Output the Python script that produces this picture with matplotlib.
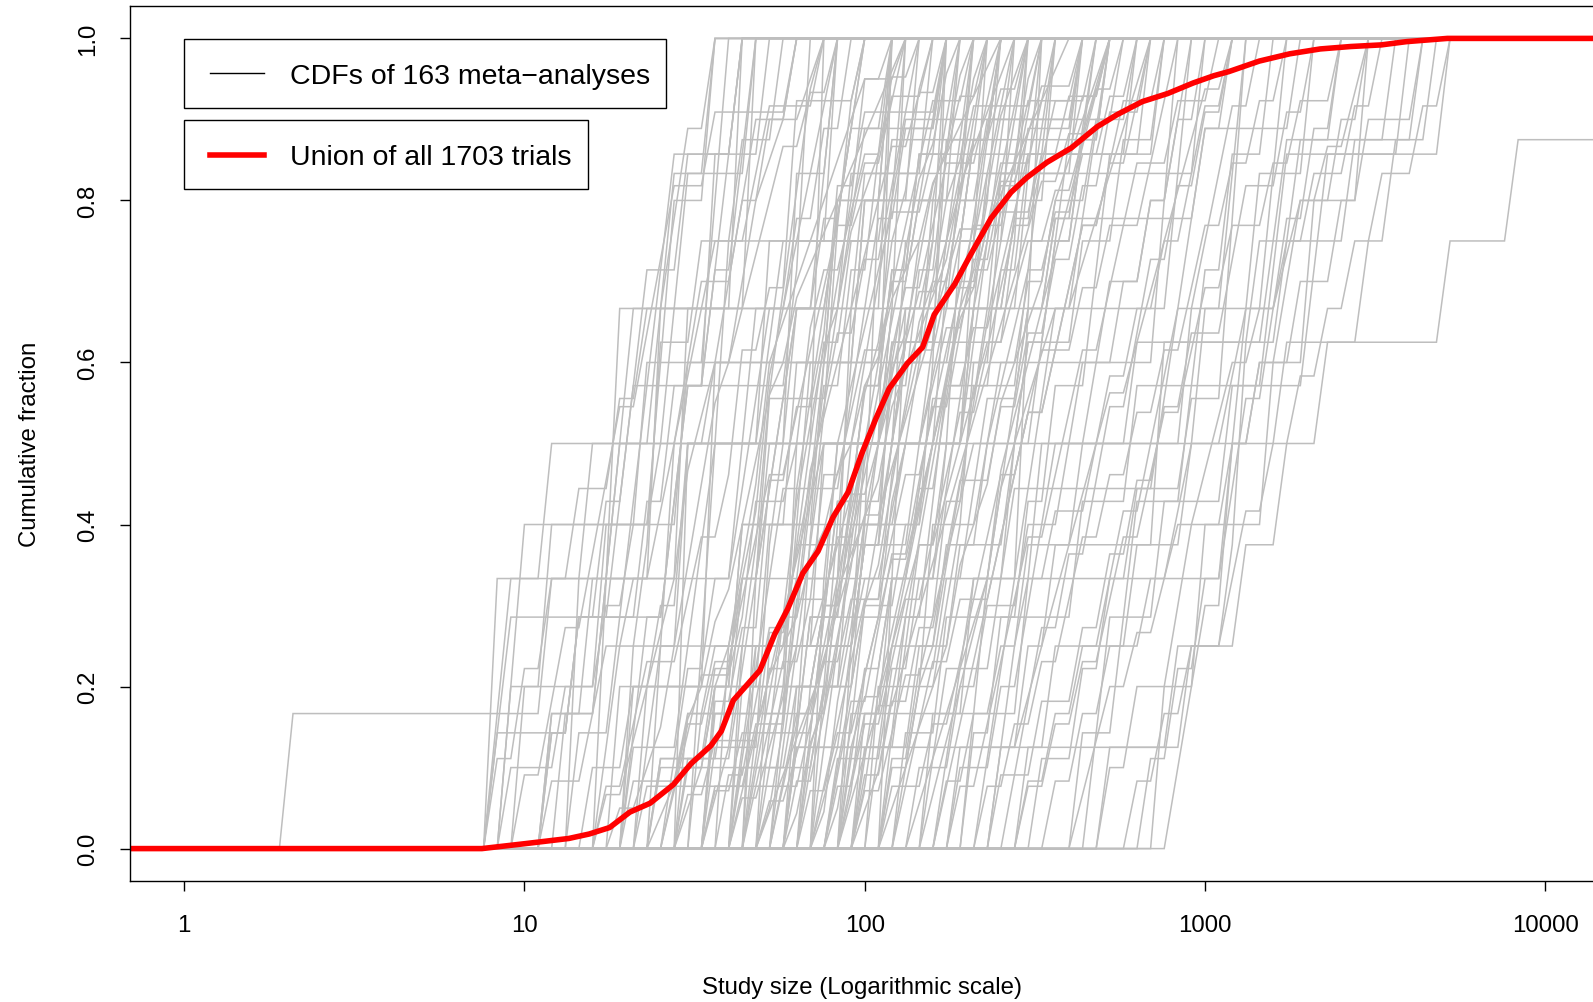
import numpy as np
import matplotlib
matplotlib.use("Agg")
import matplotlib.pyplot as plt
from matplotlib.patches import Rectangle
from matplotlib.lines import Line2D

plt.rcParams["font.family"] = ["Liberation Sans", "DejaVu Sans"]

# ---- trial sizes per meta-analysis (participants per trial) ----
ma_small = [
    [2, 9, 12, 45, 90, 150],
    [8, 10, 12, 14, 18, 22, 26, 30, 34],
    [8, 11, 15, 20, 26, 44],
    [9, 13, 16, 20, 25, 28, 32, 40, 50, 60],
    [8, 18, 40],
    [9, 10, 24, 26, 34],
    [10, 12, 13, 15, 17, 19, 21, 24, 27, 35, 60],
    [11, 14, 16, 20, 22, 30, 40],
    [12, 16, 19, 23, 28, 34],
    [8, 14, 22, 26, 34, 40, 48],
    [10, 11, 22, 100, 120],
    [12, 15, 17, 20, 24, 26, 30, 32, 36, 44, 52, 70],
    [14, 18, 20, 22, 25, 27, 42],
    [15, 20, 24, 28, 30, 36, 38, 42, 46, 60],
    [16, 19, 21, 24, 25, 33, 40, 55],
    [9, 16, 30, 34, 38],
    [13, 17, 40, 60, 62, 80],
    [17, 20, 22, 24, 26, 28, 30, 33, 35, 40, 45, 48, 55, 66, 80],
    [18, 22, 24, 26, 27, 28, 30, 31, 33, 34, 36, 38, 40, 42, 44, 47, 50, 56, 64, 72],
    [20, 22, 26, 30, 34, 38, 44],
    [11, 15, 19, 26, 300, 420],
    [8, 9, 26, 30, 34, 36, 40],
    [16, 20, 22, 28, 33, 38, 40, 42, 50, 58, 60, 62, 100],
    [18, 40, 70, 100, 130],
    [14, 30, 44],
    [20, 26, 50, 80],
    [12, 14, 18, 20, 60, 64, 68],
    [16, 24, 120],
    [20, 28, 32, 36, 48, 56, 200, 240],
    [24, 26, 28, 30, 32, 34, 36, 38, 40, 42, 44, 46, 48, 50, 54, 58, 62, 66,
     72, 78, 86, 94, 104, 116, 130],
]

ma_mid = [
    [20, 30, 36, 40, 44, 48, 50, 54, 60, 66, 72, 80],
    [22, 28, 34, 40, 46, 52, 58, 64, 70, 80, 96, 110, 130],
    [24, 30, 35, 41, 45, 51, 60, 70, 85],
    [25, 38, 42, 50, 55, 62, 74, 90, 120],
    [26, 30, 32, 40, 44, 46, 60, 64, 68, 74, 84, 96, 120, 150],
    [28, 36, 48, 52, 60, 64, 66, 70, 78, 90, 100, 104, 120, 140, 160],
    [30, 34, 42, 48, 56, 62, 80, 88, 94],
    [32, 40, 50, 60, 70, 80],
    [34, 36, 40, 50, 52, 60, 70, 76, 80, 100, 140],
    [35, 45, 60, 62, 70, 75, 85, 100, 110, 130, 135, 150, 200],
    [36, 42, 48, 54, 60, 66, 72, 84, 96, 108, 120, 150, 180, 220],
    [38, 46, 50, 58, 66, 74, 82, 92, 110, 130, 160],
    [40, 44, 52, 56, 64, 70, 78, 86, 100],
    [20, 40, 60, 80, 120],
    [22, 24, 60, 64, 70, 90, 110, 200],
    [42, 50, 55, 63, 71, 80, 90, 101, 112, 125, 140, 160, 180, 200, 240, 300],
    [44, 48, 60, 62, 84, 98, 104, 124, 160],
    [45, 55, 65, 75, 90, 105, 120],
    [46, 50, 56, 64, 80, 96, 104, 112, 130, 150, 170, 210, 240],
    [48, 60, 72, 90, 100, 108, 120, 132, 160, 180],
    [50, 58, 64, 70, 80, 86, 100, 116, 124, 140, 150, 170, 190, 230, 280, 320, 400],
    [52, 66, 80, 100, 120, 144, 170],
    [55, 60, 70, 76, 88, 100, 114, 130, 150, 175, 200, 260],
    [56, 64, 74, 90, 110, 120, 126, 140, 168, 200, 250, 330, 450],
    [58, 70, 84, 96, 120, 140, 180],
    [60, 80, 96, 110, 120, 160, 200, 240],
    [62, 70, 82, 98, 112, 126, 150, 166, 188, 210, 250, 300],
    [64, 72, 100, 108, 130, 144, 156, 180, 200, 220],
    [66, 80, 92, 104, 118, 134, 152, 170, 196, 230, 260, 310, 380, 480],
    [68, 90, 120, 150, 180],
    [70, 76, 88, 100, 110, 130, 150, 160, 190, 220, 260, 300, 340],
    [30, 35, 70, 76, 82, 100, 106, 120, 130, 400],
    [24, 70, 90, 96, 110, 130, 180, 220, 260, 300],
    [72, 82, 96, 110, 124, 140, 160, 180, 200, 228, 260, 290, 340, 400, 460, 560],
    [74, 90, 100, 118, 130, 160, 190, 230],
    [76, 84, 104, 120, 138, 150, 176, 200, 240, 280, 330],
    [80, 100, 120, 140, 160, 200, 260, 320, 400],
    [82, 96, 112, 130, 148, 168, 190, 214, 240, 270, 310, 360, 420],
    [84, 100, 110, 124, 140, 156, 172, 190, 214, 240, 270, 320],
    [86, 120, 160, 200, 240, 320],
    [88, 96, 108, 122, 134, 150, 164, 180, 196, 214, 236, 260, 290, 330, 380, 440, 520],
    [90, 110, 136, 160, 180, 220, 260, 300, 360],
    [92, 130, 170, 210, 280, 340, 400, 460],
    [95, 102, 120, 142, 156, 176, 200, 224, 250],
    [98, 120, 144, 160, 190, 230, 280, 340, 420, 520, 640],
    [100, 114, 128, 150, 164, 180, 204, 230, 260, 300, 350, 410, 500, 600],
    [40, 44, 100, 120, 130, 140, 400, 500],
    [34, 48, 50, 56, 200, 220, 240, 260],
    [40, 60, 150, 160, 170],
    [25, 30, 200, 210],
    [45, 300, 320],
    [70, 80, 90, 700, 800],
    [22, 34, 36, 120, 140],
    [28, 30, 70, 74],
    [30, 60, 90, 110, 180, 200],
    [32, 34, 38, 160],
    [36, 50, 64, 76, 250],
    [38, 100, 110, 115],
    [40, 42, 90, 96, 180, 190, 200, 210],
    [46, 70, 130, 260],
    [48, 52, 60, 140, 150, 160, 170, 500],
    [54, 62, 68, 74, 130, 150, 220, 240],
    [56, 58, 62, 120, 124, 128],
    [58, 100, 104, 106, 200],
    [62, 66, 150, 160, 300, 310, 600],
    [66, 72, 80, 110, 140, 170, 700],
    [70, 74, 78, 200, 220, 1000],
    [78, 90, 100, 130, 150, 160, 170, 190, 210, 600],
    [84, 88, 94, 104, 116, 260, 280, 300],
    [34, 80, 84, 88, 92, 300],
    [26, 40, 44, 48, 52, 80, 86, 92, 160],
    [42, 56, 70, 84, 98, 112, 126, 140, 154, 168],
    [88, 140, 190, 260, 330, 420, 540, 700],
    [106, 120, 134, 170, 300, 340, 380, 420],
]

ma_dense = [
    [26, 60, 64, 66, 68, 70, 72, 76, 78, 80, 84, 90, 96],
    [50, 54, 56, 58, 60, 62, 64, 66, 68, 70, 72, 74, 76, 80, 84, 88, 92, 96, 100, 110],
    [36, 38, 40, 42, 44, 46, 48, 50, 52, 54, 56, 58, 60, 64, 68, 72],
    [44, 46, 50, 52, 54, 56, 58, 60, 62, 64, 66, 70, 74, 78, 84, 90, 96, 104,
     112, 120, 140],
    [60, 64, 68, 72, 76, 80, 84, 88, 92, 96, 100, 104, 108, 112, 118, 124, 130,
     136, 142, 150, 160, 170, 180],
    [80, 84, 88, 92, 96, 100, 106, 112, 118, 124, 130, 136, 144, 152, 160, 170,
     180, 192, 204, 216],
    [100, 106, 112, 118, 124, 130, 136, 142, 148, 156, 164, 172, 180, 190, 200,
     212, 224, 236, 250, 270, 290],
    [120, 128, 136, 144, 152, 160, 168, 176, 184, 192, 200, 210, 220, 232, 244,
     256, 270, 286, 300, 320],
    [30, 32, 34, 36, 38, 40, 42, 44, 46, 48, 50, 52, 56, 60, 66, 72, 80, 90, 100, 124],
    [90, 94, 98, 104, 110, 120, 130, 150, 170, 200, 240, 300, 400, 500],
    [96, 98, 102, 106, 108, 114, 116, 122, 126, 132, 140, 146, 152, 160, 170,
     178, 188, 200, 214, 226, 240, 260, 282, 310, 340, 380],
    [40, 42, 44, 46, 48, 52, 56, 60, 64, 68, 72, 76, 80, 86, 92, 98, 104, 112,
     120, 128, 136, 146, 156, 170, 186, 204, 224, 250],
    [52, 56, 60, 68, 72, 76, 82, 88, 96, 104, 110, 118, 128, 138, 150, 162,
     176, 190, 206, 222, 240, 262],
    [64, 68, 72, 76, 80, 86, 90, 94, 100, 106, 112, 118, 126, 134, 142, 150],
    [74, 76, 80, 82, 86, 88, 92, 96, 100, 104, 108, 114, 120, 126, 132, 140,
     148, 156, 166, 178, 190, 204],
    [124, 130, 140, 150, 160, 174, 186, 200, 216, 232, 250, 270, 290, 312, 336,
     360, 390, 420, 460, 500],
    [134, 146, 160, 176, 192, 210, 230, 250, 274, 300, 330, 360, 400, 440, 480,
     530, 600, 680],
    [150, 164, 178, 194, 212, 230, 250, 272, 296, 322, 350, 380, 414, 450, 490],
]

ma_large = [
    [110, 130, 160, 200, 240, 300, 360],
    [120, 140, 170, 190, 220, 250, 300, 360, 440, 540],
    [130, 150, 180, 200, 230, 260, 300, 330, 380, 430, 500, 580, 700],
    [140, 180, 220, 280, 340, 420, 520, 640, 800, 1000],
    [150, 170, 200, 230, 260, 300, 350, 400, 460],
    [160, 200, 250, 300, 360, 440, 520, 600, 720, 860, 1000, 1200],
    [180, 210, 240, 270, 300, 340, 380, 420, 480, 540, 600, 700, 800],
    [200, 240, 300, 360, 440, 520, 640],
    [220, 260, 320, 380, 420, 500, 600, 700, 840, 1000, 1200, 1400, 1700],
    [240, 280, 330, 380, 440, 500, 580, 680, 800, 940, 1100],
    [260, 320, 400, 480, 600, 720, 900, 1100, 1300, 1600, 2000],
    [280, 340, 420, 500, 560, 640, 720, 820, 920, 1040, 1200, 1400],
    [300, 360, 420, 480, 560, 640, 740, 860, 1000, 1200, 1500, 1900, 2400],
    [320, 400, 500, 600, 700, 800, 900, 1000, 1200],
    [360, 420, 520, 640, 760, 900, 1100, 1300, 1600, 2000, 2600, 3200],
    [400, 450, 520, 600, 700, 800, 920, 1050, 1200, 1400, 1650, 1900, 2200, 2600, 3000],
    [450, 560, 700, 850, 1000, 1200, 1500],
    [500, 620, 760, 900, 1100, 1400, 1800, 2300, 3000, 4000],
    [150, 200, 260, 1000, 1100, 1300],
    [100, 300, 320, 900, 1500, 1700],
    [200, 220, 1200, 1300, 1400, 2000],
    [60, 300, 340, 400, 600, 1500, 1600, 2500],
    [130, 160, 400, 600, 2000, 2200, 3800],
    [240, 260, 280, 700, 750, 1600, 1800, 4000],
    [170, 190, 240, 270, 900, 1100, 1200, 1250, 1300],
    [820, 900, 1000, 1100, 1200, 1400, 1600, 1900, 2300, 3000],
    [180, 350, 600, 900, 1600, 5000, 8200, 25000],
    [600, 700, 900, 1100, 1300, 1500, 1800, 2200, 2700, 3300, 4200, 5200],
    [700, 1000, 1500, 2000, 3000],
    [500, 900, 1300, 1700, 2200, 2800, 3500, 4500],
    [300, 800, 1200, 1250, 1300, 1400, 2600, 3600],
    [420, 500, 600, 1100, 1500, 1600, 4800],
    [650, 800, 950, 1100, 1250, 1450, 1700, 2000, 2400],
    [104, 150, 200, 250, 350],
    [110, 116, 124, 130, 800, 900],
    [112, 140, 168, 196, 224, 280, 350, 1000, 1800],
    [116, 132, 150, 180, 210, 250, 290, 350, 420, 520, 650, 800, 1050],
    [170, 180, 200, 220, 240, 260, 300, 340, 380, 430, 480, 560, 640],
    [190, 230, 280, 330, 390, 460, 540, 640, 760, 900],
    [210, 240, 270, 300, 330, 360, 400, 450, 520],
    [230, 250, 280, 310, 340, 380, 420, 470, 520, 580, 640, 720, 800, 880, 980, 1100],
]

# ---- pooled CDF of every trial ----
union_size = [0.69, 7.5, 10, 13.5, 15.5, 17.8, 20.4, 23.4, 27.4, 30.9, 35.3,
              37.9, 41.1, 49.2, 54.3, 59.4, 65.8, 72.9, 80.7, 89.4, 97.9,
              107.9, 118, 133.5, 148, 160, 184, 204, 235, 269, 299, 343, 405,
              482, 552, 654, 777, 923, 1062, 1174, 1443, 1774, 2181, 2681,
              3297, 3907, 5154, 14000]
union_fraction = [0.0, 0.0, 0.006, 0.0125, 0.018, 0.026, 0.045, 0.056, 0.079,
                  0.105, 0.127, 0.145, 0.183, 0.22, 0.264, 0.296, 0.34, 0.367,
                  0.409, 0.44, 0.487, 0.531, 0.568, 0.599, 0.619, 0.659, 0.697,
                  0.732, 0.778, 0.81, 0.828, 0.847, 0.865, 0.891, 0.906, 0.922,
                  0.932, 0.945, 0.954, 0.959, 0.972, 0.981, 0.987, 0.99, 0.992,
                  0.996, 1.0, 1.0]

legend_labels = ["CDFs of 163 meta\u2212analyses", "Union of all 1703 trials"]
x_ticks = [1, 10, 100, 1000, 10000]
y_ticks = [0.0, 0.2, 0.4, 0.6, 0.8, 1.0]

W, H = 1593, 1003
fig = plt.figure(figsize=(W / 100, H / 100), dpi=100)
ax = fig.add_axes([130 / W, (H - 882) / H, 1 - 130 / W, 875 / H])

# each CDF is evaluated on a log-spaced grid of study sizes
grid = 10 ** np.arange(-0.16, 4.32, 0.04)
for group in (ma_small, ma_mid, ma_dense, ma_large):
    for sizes in group:
        s = np.sort(np.asarray(sizes, dtype=float))
        cdf = np.searchsorted(s, grid, side="right") / len(s)
        ax.plot(grid, cdf, color="#BEBEBE", lw=1.1, solid_joinstyle="miter")

ax.plot(union_size, union_fraction, color="#FF0000", lw=4.0,
        solid_capstyle="butt", solid_joinstyle="round")

ax.set_xscale("log")
ax.set_xlim(10 ** -0.159, 10 ** 4.14)
ax.set_ylim(-0.04, 1.04)
ax.set_xticks(x_ticks)
ax.set_xticklabels([str(v) for v in x_ticks])
ax.xaxis.set_minor_locator(matplotlib.ticker.NullLocator())
ax.set_yticks(y_ticks)
ax.set_yticklabels([f"{v:.1f}" for v in y_ticks], rotation=90, va="center")
ax.tick_params(axis="both", direction="out", length=7.5, width=1.0,
               labelsize=17.3, color="black")
ax.tick_params(axis="x", pad=16)
ax.tick_params(axis="y", pad=14.5)
for side in ("left", "bottom", "top"):
    ax.spines[side].set_linewidth(1.0)
ax.spines["right"].set_visible(False)

ax.set_xlabel("Study size (Logarithmic scale)", fontsize=17.3, labelpad=29)
ax.set_ylabel("Cumulative fraction", fontsize=17.3, labelpad=26)


def fx(x):
    return x / W


def fy(y):
    return 1 - y / H


# legend boxes
boxes = [(184, 39.6, 666, 108.7), (184, 121, 588, 190)]
samples = [("black", 1.0), ("#FF0000", 4.0)]
for (x0, y0, x1, y1), (col, lw), label in zip(boxes, samples, legend_labels):
    fig.patches.append(Rectangle((fx(x0), fy(y1)), fx(x1) - fx(x0), fy(y0) - fy(y1),
                                 transform=fig.transFigure, fill=True,
                                 facecolor="white", edgecolor="black", lw=1.0,
                                 zorder=5))
    yc = (y0 + y1) / 2
    fig.lines.append(Line2D([fx(210), fx(264)], [fy(yc), fy(yc)], color=col, lw=lw,
                            transform=fig.transFigure, zorder=6))
    fig.text(fx(290), fy(yc), label, fontsize=20.5, va="center_baseline",
             ha="left", zorder=7)

fig.savefig("out.png", dpi=100)
